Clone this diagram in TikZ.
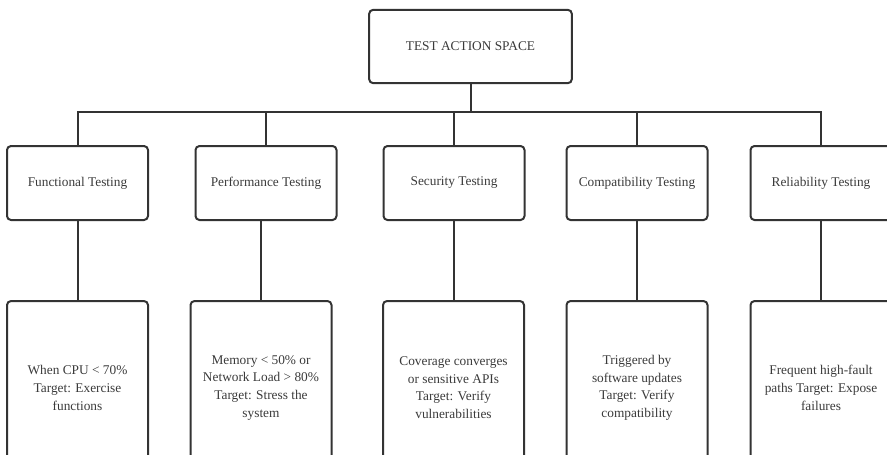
\documentclass[tikz,border=0pt]{standalone}
\usepackage{fontspec}
\setmainfont{Liberation Serif}
\usetikzlibrary{calc,positioning}
\definecolor{linegray}{HTML}{333333}
\definecolor{textgray}{HTML}{3A3A3A}
\tikzset{
  rootbox/.style={
    rectangle,
    rounded corners=3pt,
    draw=linegray, line width=1.5pt,
    minimum width=152pt,
    minimum height=55pt,
    inner sep=0pt,
    text=textgray,
    font=\fontsize{10}{12}\selectfont,
    text centered},
  catbox/.style={
    rootbox,
    minimum width=105.75pt,
    minimum height=55.5pt},
  condbox/.style={
    rootbox,
    minimum width=105.75pt,
    minimum height=130pt,
    font=\fontsize{10}{13.3}\selectfont,
    align=center},
  link/.style={draw=linegray, line width=1.5pt},
}

\begin{document}
\begin{tikzpicture}[x=0.75pt,y=-0.75pt]
  \clip (0,0) rectangle (887,454);
  \useasboundingbox (0,0) rectangle (887,454);
  % top of the tree
  \node[rootbox] (root) at (470.5,46.5) {TEST ACTION SPACE};
  \coordinate (bus) at (470.5,112);
  % the five kinds of testing
  \node[catbox] (func) at (77.5,183) {Functional Testing};
  \node[catbox] (perf) at (266,183) {Performance Testing};
  \node[catbox] (secu) at (454,183) {Security Testing};
  \node[catbox] (comp) at (637,183) {Compatibility Testing};
  \node[catbox] (reli) at (821,183) {Reliability Testing};
  % when each one fires
  \node[condbox] (funccond) at (77.5,387.7) {When CPU < 70\%\\Target: Exercise\\functions};
  \node[condbox] (perfcond) at (261,387.7) {Memory < 50\% or\\Network Load > 80\%\\Target: Stress the\\system};
  \node[condbox] (secucond) at (453.5,387.7) {Coverage converges\\or sensitive APIs\\Target: Verify\\vulnerabilities};
  \node[condbox] (compcond) at (637,387.7) {Triggered by\\software updates\\Target: Verify\\compatibility};
  \node[condbox] (relicond) at (821,387.7) {Frequent high-fault\\paths Target: Expose\\failures};
  %% branches
  \draw[link] (root.south) -- (bus);
  \draw[link] (bus) -| (func.north);
  \draw[link] (bus) -| (perf.north);
  \draw[link] (bus) -| (secu.north);
  \draw[link] (bus) -| (comp.north);
  \draw[link] (bus) -| (reli.north);
  %% down to the conditions
  \draw[link] (func.south -| funccond.north) -- (funccond.north);
  \draw[link] (perf.south -| perfcond.north) -- (perfcond.north);
  \draw[link] (secu.south -| secucond.north) -- (secucond.north);
  \draw[link] (comp.south -| compcond.north) -- (compcond.north);
  \draw[link] (reli.south -| relicond.north) -- (relicond.north);
\end{tikzpicture}
\end{document}
